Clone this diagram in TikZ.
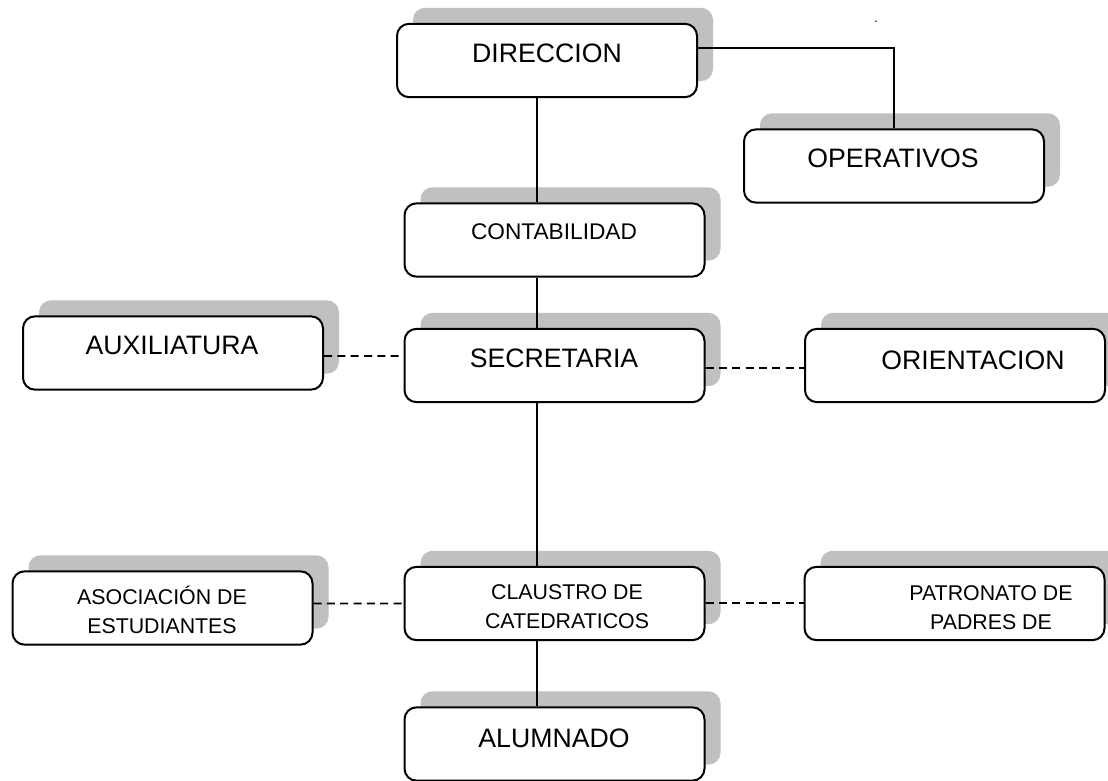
\documentclass[tikz,border=0pt]{standalone}
\usepackage{fontspec}
\setmainfont{Liberation Sans}
\usetikzlibrary{shadows}
\definecolor{shadowgray}{RGB}{192,192,192}
\tikzset{
    orgbox/.style={
        draw,
        fill=white,
        rounded corners=9pt,
        line width=1.5pt,
        minimum width=225pt,
        minimum height=55pt,
        inner sep=0pt,
        drop shadow={shadow xshift=12pt, shadow yshift=12pt, fill=shadowgray, opacity=1}
    },
    bigtext/.style={font=\fontsize{20}{24}\selectfont, inner sep=0pt},
    smalltext/.style={font=\fontsize{16}{21.5}\selectfont, align=center, inner sep=0pt},
    tie/.style={line width=1.3pt},
    dashtie/.style={line width=1.3pt, dash pattern=on 6pt off 4pt}
}

\begin{document}
\begin{tikzpicture}[x=0.75pt, y=-0.75pt]
    \useasboundingbox (0,0) rectangle (1108,781);

    % Boxes
    \node[orgbox] (dir) at (547,60.5) {};
    \node[orgbox] (oper) at (894,166) {};
    \node[orgbox] (cont) at (554.5,240) {};
    \node[orgbox] (secr) at (554.5,365.5) {};
    \node[orgbox] (aux) at (173,353) {};
    \node[orgbox] (orie) at (955,365.5) {};
    \node[orgbox] (asoc) at (162.5,608) {};
    \node[orgbox] (clau) at (554.5,603.5) {};
    \node[orgbox] (patr) at (954.5,603.5) {};
    \node[orgbox] (alum) at (554.5,744) {};

    % Texts
    \node[bigtext] (dir-t) at (547,53) {DIRECCION};
    \node[bigtext] (oper-t) at (893,158) {OPERATIVOS};
    \node[bigtext, font=\fontsize{17}{20}\selectfont] (cont-t) at (554,232) {CONTABILIDAD};
    \node[bigtext] (secr-t) at (554,358) {SECRETARIA};
    \node[bigtext] (aux-t) at (172,345) {AUXILIATURA};
    \node[bigtext] (orie-t) at (973,360) {ORIENTACION};
    \node[smalltext] (asoc-t) at (162,610) {ASOCIACIÓN DE\\ESTUDIANTES};
    \node[smalltext] (clau-t) at (567,606.5) {CLAUSTRO DE\\CATEDRATICOS};
    \node[smalltext] (patr-t) at (991,607.5) {PATRONATO DE\\PADRES DE};
    \node[bigtext] (alum-t) at (554,738) {ALUMNADO};
    \node[font=\fontsize{10}{12}\selectfont, inner sep=0pt] (dot) at (876,22) {.};

    % Solid lines
    \coordinate (spine) at (537,0);
    \draw[tie] ([yshift=9.4pt]dir.east) -| (oper.north);
    \draw[tie] (dir.south -| spine) -- (cont.north -| spine);
    \draw[tie] (cont.south -| spine) -- (secr.north -| spine);
    \draw[tie] (secr.south -| spine) -- (clau.north -| spine);
    \draw[tie] (clau.south -| spine) -- (alum.north -| spine);

    % Dashed lines
    \draw[dashtie] ([yshift=-2.25pt]aux.east) -- ([yshift=7.1pt]secr.west);
    \draw[dashtie] ([yshift=-1.9pt]secr.east) -- ([yshift=-1.9pt]orie.west);
    \draw[dashtie] ([yshift=3.4pt]asoc.east) -- (clau.west);
    \draw[dashtie] ([yshift=0.4pt]clau.east) -- ([yshift=0.4pt]patr.west);
\end{tikzpicture}
\end{document}
